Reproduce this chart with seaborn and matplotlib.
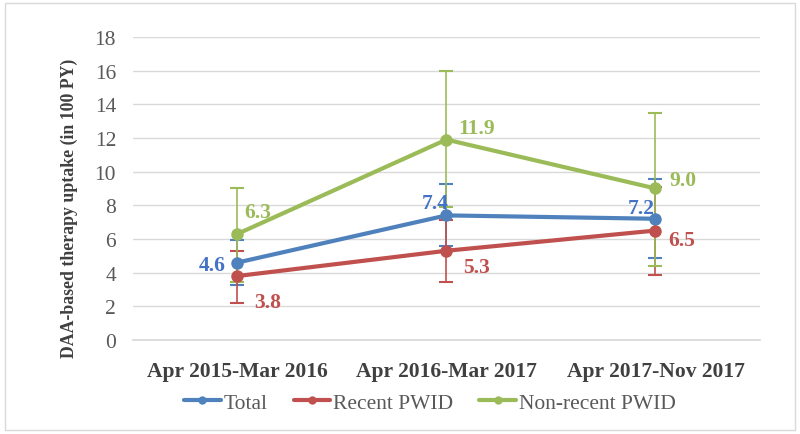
import matplotlib
matplotlib.use("Agg")
import matplotlib.pyplot as plt
import seaborn as sns
import pandas as pd
from matplotlib.patches import Rectangle
from matplotlib.lines import Line2D

periods = ["Apr 2015-Mar 2016", "Apr 2016-Mar 2017", "Apr 2017-Nov 2017"]
series_names = ["Total", "Recent PWID", "Non-recent PWID"]
total = [4.6, 7.4, 7.2]
total_lo = [3.25, 5.6, 4.9]
total_hi = [5.95, 9.25, 9.55]
recent = [3.8, 5.3, 6.5]
recent_lo = [2.2, 3.45, 3.85]
recent_hi = [5.3, 7.1, 9.1]
nonrecent = [6.3, 11.9, 9.0]
nonrecent_lo = [3.45, 7.9, 4.4]
nonrecent_hi = [9.0, 15.95, 13.5]
yticks = [0, 2, 4, 6, 8, 10, 12, 14, 16, 18]

colors = {"Total": "#4F81BD", "Recent PWID": "#C0504D", "Non-recent PWID": "#9BBB59"}
label_colors = {"Total": "#4472C4", "Recent PWID": "#C0504D", "Non-recent PWID": "#9BBB59"}

sns.set_theme(style="white")
plt.rcParams["font.family"] = ["Liberation Serif", "DejaVu Serif"]

rows = []
vals = {"Total": (total, total_lo, total_hi),
        "Recent PWID": (recent, recent_lo, recent_hi),
        "Non-recent PWID": (nonrecent, nonrecent_lo, nonrecent_hi)}
for s in series_names:
    v, lo, hi = vals[s]
    for i, p in enumerate(periods):
        rows.append({"period": p, "x": i, "series": s, "value": v[i], "lo": lo[i], "hi": hi[i]})
df = pd.DataFrame(rows)

fig = plt.figure(figsize=(8, 4.35), dpi=100)
ax = fig.add_axes([0.166, 0.216, 0.784, 0.697])

# error bars
for s in series_names:
    d = df[df.series == s]
    ax.errorbar(d.x, d.value, yerr=[d.value - d.lo, d.hi - d.value], fmt="none",
                ecolor=colors[s], elinewidth=1.2, capsize=5, capthick=1.5, zorder=2)

sns.lineplot(data=df, x="x", y="value", hue="series", palette=colors, hue_order=series_names,
             marker="o", markersize=9, markeredgewidth=0, linewidth=3, ax=ax, zorder=3,
             legend=False)

# data labels (offsets in points)
offsets = {
    "Total": [(-18, -2), (-8, 9), (-10, 8)],
    "Recent PWID": [(22, -19), (22, -12), (19, -7)],
    "Non-recent PWID": [(15, 16), (22, 8), (20, 6)],
}
for s in series_names:
    d = df[df.series == s].reset_index(drop=True)
    for i, r in d.iterrows():
        dx, dy = offsets[s][i]
        ax.annotate(f"{r.value:.1f}", (r.x, r.value), xytext=(dx, dy), textcoords="offset points",
                    ha="center", va="center", fontsize=15.5, fontweight="bold",
                    color=label_colors[s], zorder=5)

ax.set_xlim(-0.5, 2.5)
ax.set_ylim(0, 18)
ax.set_yticks(yticks)
ax.set_yticklabels([str(t) for t in yticks], fontsize=15.5, color="#595959")
ax.set_xticks(range(len(periods)))
ax.set_xticklabels(periods, fontsize=15.5, fontweight="bold", color="#404040")
ax.tick_params(axis="x", length=0, pad=15)
ax.tick_params(axis="y", length=0, pad=12)
ax.yaxis.grid(True, color="#D9D9D9", linewidth=1)
ax.set_axisbelow(True)
for sp in ["top", "right", "left"]:
    ax.spines[sp].set_visible(False)
ax.spines["bottom"].set_color("#D9D9D9")
ax.set_xlabel("")
ax.set_ylabel("DAA-based therapy uptake (in 100 PY)", fontsize=12.8, fontweight="bold",
              color="#404040")
ax.yaxis.set_label_coords(-0.087, 0.436)

handles = [Line2D([0], [0], color=colors[s], linewidth=3, marker="o", markersize=6,
                  markeredgewidth=0) for s in series_names]
fig.legend(handles, series_names, loc="center", bbox_to_anchor=(0.5375, 0.072), ncol=3,
           frameon=False, fontsize=15.5, handlelength=1.7, columnspacing=1.2, handletextpad=0.15,
           labelcolor="#595959")

fig.patches.append(Rectangle((0.006, 0.01), 0.988, 0.98, transform=fig.transFigure,
                             fill=False, edgecolor="#D9D9D9", linewidth=1))

fig.savefig("out.png", dpi=100)
